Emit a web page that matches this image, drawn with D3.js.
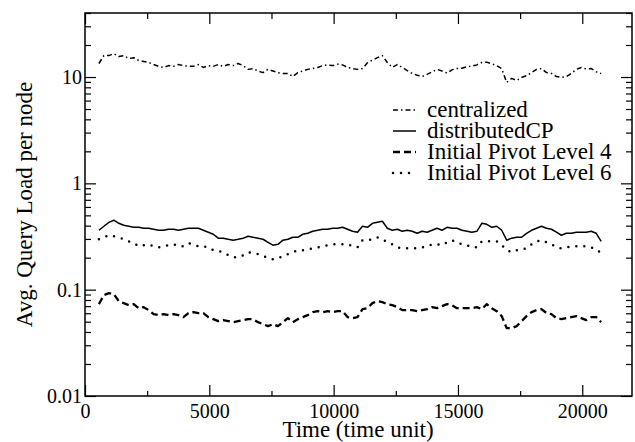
<!DOCTYPE html>
<html><head><meta charset="utf-8">
<script src="https://cdn.jsdelivr.net/npm/d3@7"></script>
<style>
body{margin:0;background:#fff;}
svg text{font-family:'Liberation Serif','Times New Roman',Times,'DejaVu Serif',serif !important;fill:#000;}
</style></head>
<body><svg id="c" width="635" height="442" font-family="Liberation Serif, Times New Roman, serif"></svg>
<script>
// ---- data ----
const times = d3.range(102).map(i => 560 + 200 * i); // sample times (time unit)
const centralized = [13.4,15.9,15.9,16.6,15.6,15.9,14.9,15.2,14.3,14.0,13.7,13.1,12.6,12.3,12.8,12.6,13.1,12.8,12.6,12.6,13.1,12.3,12.8,12.6,13.1,12.6,13.1,12.8,13.4,12.8,11.8,12.0,11.4,11.0,11.8,11.4,11.0,10.8,10.8,10.1,11.0,11.4,11.8,12.0,12.3,12.8,13.0,12.8,13.2,13.0,12.3,12.0,11.8,12.0,13.6,14.4,15.2,15.9,13.7,12.3,13.1,12.3,11.5,10.8,10.4,10.1,10.6,11.2,11.8,11.4,10.9,11.7,12.0,12.1,12.5,12.7,13.0,13.7,13.8,13.3,12.8,12.0,8.9,9.7,9.3,9.9,10.3,11.0,11.8,12.0,11.0,10.8,10.1,9.9,10.1,10.8,11.8,12.3,11.9,12.0,11.2,10.8];
const distributedCP = [0.362,0.395,0.430,0.450,0.421,0.403,0.395,0.386,0.386,0.378,0.378,0.370,0.362,0.362,0.370,0.370,0.362,0.370,0.378,0.378,0.378,0.362,0.347,0.332,0.305,0.305,0.298,0.292,0.298,0.305,0.318,0.311,0.305,0.298,0.279,0.262,0.267,0.292,0.298,0.311,0.311,0.332,0.339,0.354,0.362,0.370,0.370,0.378,0.378,0.386,0.370,0.354,0.347,0.395,0.386,0.421,0.430,0.440,0.378,0.362,0.370,0.354,0.362,0.354,0.339,0.354,0.347,0.362,0.378,0.362,0.386,0.378,0.378,0.362,0.354,0.347,0.354,0.421,0.412,0.386,0.395,0.362,0.292,0.305,0.311,0.311,0.339,0.362,0.378,0.395,0.378,0.370,0.347,0.325,0.339,0.339,0.347,0.347,0.347,0.354,0.339,0.285];
const pivotLevel4 = [0.0731,0.089,0.0927,0.091,0.078,0.0747,0.0715,0.0731,0.067,0.0685,0.0642,0.0589,0.0576,0.0589,0.0576,0.0589,0.0576,0.0552,0.0602,0.0615,0.0602,0.0602,0.0552,0.0528,0.0506,0.0517,0.0506,0.0495,0.0506,0.0517,0.0528,0.0528,0.0495,0.0474,0.0454,0.0474,0.0454,0.0495,0.054,0.0495,0.0528,0.0552,0.0576,0.0615,0.0628,0.0615,0.0628,0.0615,0.0628,0.0628,0.0552,0.054,0.0552,0.0656,0.067,0.0747,0.078,0.0763,0.0731,0.0715,0.0685,0.0642,0.0642,0.0642,0.0628,0.0642,0.0656,0.0685,0.067,0.070,0.0731,0.0715,0.067,0.067,0.067,0.067,0.0685,0.0656,0.0731,0.067,0.0628,0.0564,0.0435,0.0435,0.0454,0.0506,0.0564,0.0615,0.0642,0.0656,0.0602,0.0589,0.054,0.0528,0.054,0.0552,0.0564,0.054,0.0517,0.0552,0.0552,0.0495];
const pivotLevel6 = [0.298,0.311,0.325,0.318,0.311,0.298,0.285,0.273,0.256,0.262,0.267,0.256,0.250,0.256,0.262,0.267,0.256,0.256,0.273,0.267,0.256,0.256,0.250,0.235,0.230,0.225,0.211,0.202,0.202,0.211,0.225,0.220,0.216,0.206,0.202,0.193,0.197,0.206,0.216,0.225,0.235,0.235,0.240,0.245,0.250,0.256,0.262,0.267,0.267,0.267,0.267,0.256,0.250,0.292,0.292,0.298,0.311,0.298,0.279,0.267,0.250,0.245,0.245,0.245,0.245,0.250,0.256,0.267,0.267,0.262,0.279,0.292,0.279,0.267,0.262,0.250,0.250,0.285,0.285,0.285,0.285,0.262,0.235,0.225,0.235,0.240,0.245,0.267,0.285,0.292,0.279,0.267,0.250,0.245,0.250,0.256,0.256,0.256,0.256,0.250,0.240,0.220];
const seriesNames = ["centralized","distributedCP","Initial Pivot Level 4","Initial Pivot Level 6"];
const xTicks = [0,5000,10000,15000,20000];
const xMinorTicks = [2500,7500,12500,17500];
const yTicks = [0.01,0.1,1,10];
const yTickLabels = ["0.01","0.1","1","10"];

// ---- layout ----
const FONT="'Liberation Serif','Times New Roman',Times,'DejaVu Serif',serif";
const L=85,R=632,T=13,B=396;
const svg=d3.select("#c");
const x=d3.scaleLinear().domain([0,22000]).range([L,R]);
const y=d3.scaleLog().domain([0.01,40]).range([B,T]);
const yMinor=[];
[0.01,0.1,1,10].forEach(d=>{for(let k=2;k<=9;k++){const v=d*k; if(v<=40) yMinor.push(v);}});

function styleAxis(g){g.attr("font-family",FONT);g.select(".domain").remove();g.selectAll("line").attr("stroke","#000").attr("stroke-width",1.2);g.selectAll("text").attr("font-size",20).style("font-family",FONT);}

// bottom
svg.append("g").attr("transform",`translate(0,${B})`)
 .call(d3.axisBottom(x).tickValues(xTicks).tickSize(-11).tickPadding(8).tickFormat(d3.format("d"))).call(styleAxis);
svg.append("g").attr("transform",`translate(0,${B})`)
 .call(d3.axisBottom(x).tickValues(xMinorTicks).tickSize(-5).tickFormat("")).call(styleAxis);
// top
svg.append("g").attr("transform",`translate(0,${T})`)
 .call(d3.axisTop(x).tickValues(xTicks).tickSize(-11).tickFormat("")).call(styleAxis);
svg.append("g").attr("transform",`translate(0,${T})`)
 .call(d3.axisTop(x).tickValues(xMinorTicks).tickSize(-6).tickFormat("")).call(styleAxis);
// left
svg.append("g").attr("transform",`translate(${L},0)`)
 .call(d3.axisLeft(y).tickValues(yTicks).tickSize(-11).tickPadding(3).tickFormat((d,i)=>yTickLabels[i])).call(styleAxis);
svg.append("g").attr("transform",`translate(${L},0)`)
 .call(d3.axisLeft(y).tickValues(yMinor).tickSize(-6).tickFormat("")).call(styleAxis);
// right
svg.append("g").attr("transform",`translate(${R},0)`)
 .call(d3.axisRight(y).tickValues(yTicks).tickSize(-11).tickFormat("")).call(styleAxis);
svg.append("g").attr("transform",`translate(${R},0)`)
 .call(d3.axisRight(y).tickValues(yMinor).tickSize(-6).tickFormat("")).call(styleAxis);

// frame
svg.append("rect").attr("x",L).attr("y",T).attr("width",R-L).attr("height",B-T)
 .attr("fill","none").attr("stroke","#000").attr("stroke-width",1.5);

// lines
const styles=[
 {data:centralized,dash:"5,3,1.5,3",w:1.5,cap:"butt"},
 {data:distributedCP,dash:null,w:1.5,cap:"butt"},
 {data:pivotLevel4,dash:"7,4",w:2.3,cap:"butt"},
 {data:pivotLevel6,dash:"0,8",w:2.5,cap:"round"}
];
const line=d3.line().x((d,i)=>x(times[i])).y(d=>y(d));
styles.forEach(s=>{
 const p=svg.append("path").datum(s.data).attr("d",line).attr("fill","none")
  .attr("stroke","#000").attr("stroke-width",s.w).attr("stroke-linecap",s.cap).attr("stroke-linejoin","round");
 if(s.dash) p.attr("stroke-dasharray",s.dash);
});

// legend
const lg=svg.append("g");
seriesNames.forEach((n,i)=>{
 const by=117+21*i;
 const s=styles[i];
 const l=lg.append("line").attr("x1",393).attr("x2",416).attr("y1",by-7).attr("y2",by-7)
  .attr("stroke","#000").attr("stroke-width",s.w).attr("stroke-linecap",s.cap);
 if(s.dash) l.attr("stroke-dasharray",s.dash);
 lg.append("text").attr("x",427).attr("y",by).attr("font-size",23).style("font-family",FONT).text(n);
});

// axis titles
svg.append("text").attr("x",(L+R)/2-0.5).attr("y",437).attr("text-anchor","middle").attr("font-size",23).style("font-family",FONT).text("Time (time unit)");
svg.append("text").attr("transform",`translate(32,${(T+B)/2}) rotate(-90)`).attr("text-anchor","middle").attr("font-size",23).style("font-family",FONT).text("Avg. Query Load per node");
</script></body></html>
